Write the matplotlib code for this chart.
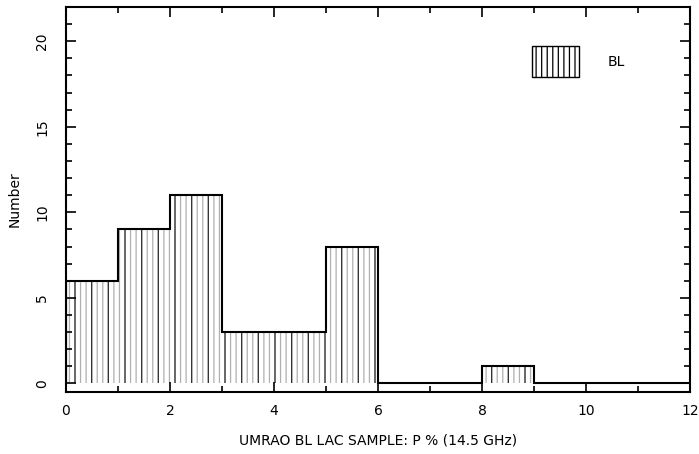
import numpy as np
import matplotlib.pyplot as plt
from matplotlib.patches import Patch

# Histogram of P% for the BL Lac sample
bin_edges = np.arange(0, 13, 1)
counts = [6, 9, 11, 3, 3, 8, 0, 0, 1, 0, 0, 0]
series_label = "BL"

plt.rcParams['hatch.linewidth'] = 0.9
plt.rcParams['font.family'] = 'DejaVu Sans'

fig = plt.figure(figsize=(6.99, 4.54), dpi=100)
ax = fig.add_axes([0.0944, 0.1366, 0.8928, 0.848])

# dotted-looking fine fill plus sparser solid lines
ax.stairs(counts, bin_edges, fill=True, facecolor='white',
          edgecolor='#b0b0b0', hatch='|||', linewidth=0)
ax.stairs(counts, bin_edges, fill=True, facecolor='none',
          edgecolor='#303030', hatch='|', linewidth=0)
ax.stairs(counts, bin_edges, baseline=0, color='black', linewidth=1.5)

ax.set_xlim(0, 12)
ax.set_ylim(-0.5, 22)
ax.set_xticks(np.arange(0, 13, 2))
ax.set_xticks(np.arange(0, 13, 1), minor=True)
ax.set_yticks(np.arange(0, 21, 5))
ax.set_yticks(np.arange(0, 22, 1), minor=True)
ax.tick_params(which='both', direction='in', top=True, right=True,
               width=1.2, labelsize=10)
ax.tick_params(which='major', length=7)
ax.tick_params(which='minor', length=4)
ax.tick_params(axis='x', which='major', pad=9)
ax.tick_params(axis='y', which='major', pad=12)
for lbl in ax.get_yticklabels():
    lbl.set_rotation(90)
    lbl.set_va('center')
for s in ax.spines.values():
    s.set_linewidth(1.5)

ax.set_xlabel('UMRAO BL LAC SAMPLE: P % (14.5 GHz)', fontsize=10, labelpad=11)
ax.set_ylabel('Number', fontsize=10, labelpad=10)

handle = [Patch(facecolor='white', edgecolor='black', hatch='|||')]
leg = ax.legend(handle, [series_label], loc='upper right', frameon=False,
                bbox_to_anchor=(0.915, 0.93), handlelength=3.4,
                handleheight=3.0, handletextpad=2.0, fontsize=10)

fig.savefig('out.png', dpi=100)
